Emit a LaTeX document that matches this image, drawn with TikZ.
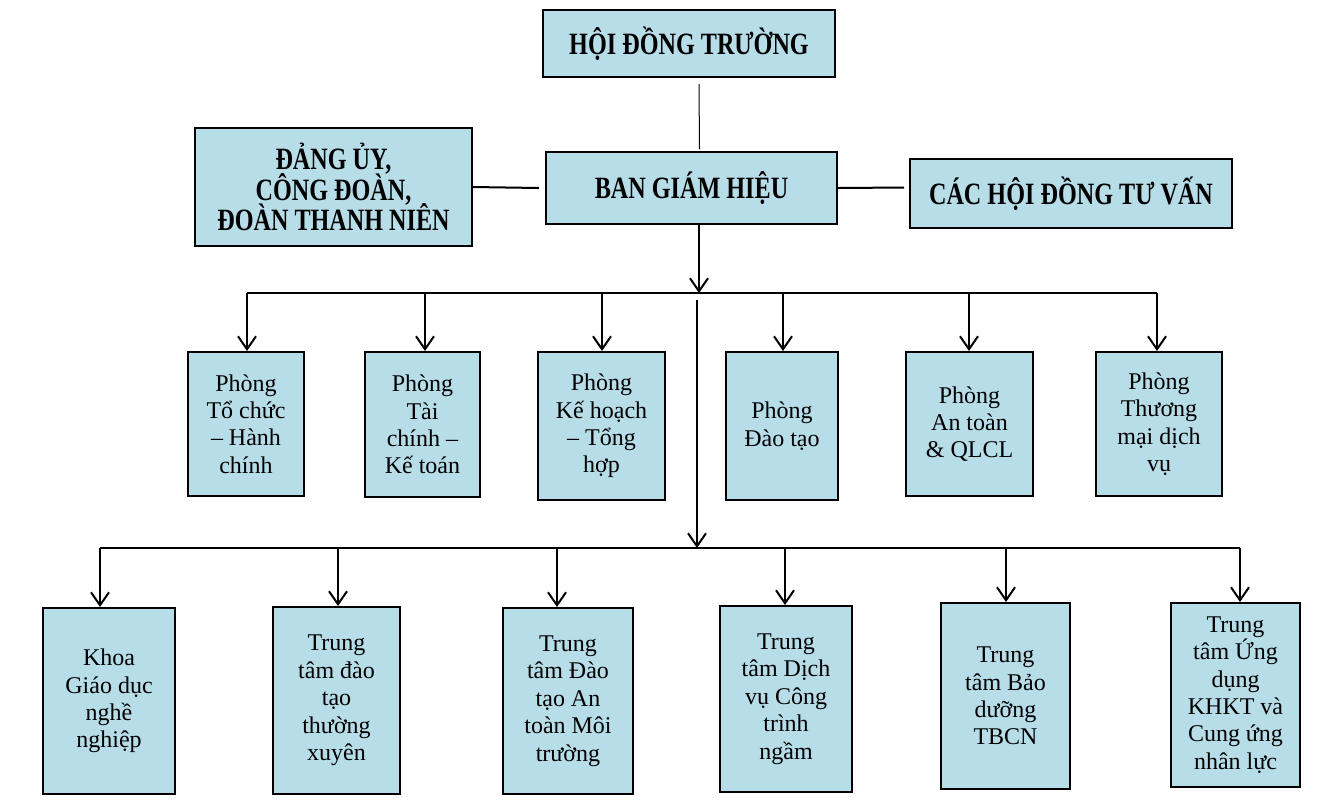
\documentclass[tikz,border=0pt]{standalone}
\usepackage{fontspec}
\setmainfont{Liberation Serif}
\newfontfamily\headfont[FakeStretch=0.78]{Liberation Serif}
\usetikzlibrary{arrows.meta,calc}
\definecolor{boxblue}{RGB}{183,221,232}
\newcommand{\headtext}{\headfont\bfseries\fontsize{15.5}{15.2}\selectfont\lineskiplimit-20pt\relax}

\begin{document}
\begin{tikzpicture}[
  x=0.5pt,y=-0.5pt,
  box/.style={draw,line width=1pt,fill=boxblue,align=center,inner sep=2pt,
    font=\fontsize{12}{13.7}\selectfont},
  head/.style={box,font=\headtext},
  link/.style={line width=1pt},
  arr/.style={line width=1pt,-{Straight Barb[length=6.5pt,width=9pt,line width=1pt]}}
]
  \useasboundingbox (0,0) rectangle (1339,800);

  % Top level
  \node[head,minimum width=146pt,minimum height=33.5pt] (hdt) at (689,43.5) {HỘI ĐỒNG TRƯỜNG};
  \node[head,minimum width=145.5pt,minimum height=36pt] (bgh) at (691.5,188) {BAN GIÁM HIỆU};
  \node[head,minimum width=138.5pt,minimum height=59pt] (dang) at (333.5,187) {ĐẢNG ỦY,\\CÔNG ĐOÀN,\\ĐOÀN THANH NIÊN};
  \node[head,minimum width=161pt,minimum height=34.5pt] (tuvan) at (1071,193.5) {CÁC HỘI ĐỒNG TƯ VẤN};

  % Side and top links
  \draw[line width=0.5pt] ($(hdt.south)+(10,6)$) -- ($(bgh.north)+(8,-2)$);
  \draw[link] ($(dang.east)+(0,0)$) -- ($(bgh.west)+(-6,0)$);
  \draw[link] (bgh.east) -- ($(tuvan.west)+(-5,-6)$);

  % Departments (row 1)
  \node[box,minimum width=58pt,minimum height=72pt] (p1) at (246,424) {Phòng\\Tổ chức\\– Hành\\chính};
  \node[box,minimum width=57.5pt,minimum height=72.5pt] (p2) at (422.5,424.5) {Phòng\\Tài\\chính –\\Kế toán};
  \node[box,minimum width=63.5pt,minimum height=74pt] (p3) at (601.5,426) {Phòng\\Kế hoạch\\– Tổng\\hợp};
  \node[box,minimum width=56pt,minimum height=74pt] (p4) at (782,426) {Phòng\\Đào tạo};
  \node[box,minimum width=63.5pt,minimum height=72pt] (p5) at (969.5,424) {Phòng\\An toàn\\\& QLCL};
  \node[box,minimum width=63pt,minimum height=72pt] (p6) at (1159,424) {Phòng\\Thương\\mại dịch\\vụ};

  % Faculty and centres (row 2)
  \node[box,minimum width=66pt,minimum height=93pt] (k1) at (109,701) {Khoa\\Giáo dục\\nghề\\nghiệp};
  \node[box,minimum width=63.5pt,minimum height=93.5pt] (k2) at (336.5,700.5) {Trung\\tâm đào\\tạo\\thường\\xuyên};
  \node[box,minimum width=65pt,minimum height=93pt] (k3) at (568,701) {Trung\\tâm Đào\\tạo An\\toàn Môi\\trường};
  \node[box,minimum width=66pt,minimum height=93pt] (k4) at (786,699) {Trung\\tâm Dịch\\vụ Công\\trình\\ngầm};
  \node[box,minimum width=64.5pt,minimum height=93pt] (k5) at (1005.5,696) {Trung\\tâm Bảo\\dưỡng\\TBCN};
  \node[box,minimum width=64.5pt,minimum height=92pt] (k6) at (1235.5,695) {Trung\\tâm Ứng\\dụng\\KHKT và\\Cung ứng\\nhân lực};

  % Bus junctions
  \coordinate (busA) at (699,293);
  \coordinate (busB) at (697,548);

  % BGH down to first bus
  \draw[arr] (bgh.south -| busA) -- (busA);
  \draw[link] (247,293) -- (1157,293);
  \draw[arr] (247,293) -- (p1.north -| 247,0);
  \draw[arr] (425,293) -- (p2.north -| 425,0);
  \draw[arr] (602,293) -- (p3.north -| 602,0);
  \draw[arr] (783,293) -- (p4.north -| 783,0);
  \draw[arr] (969,293) -- (p5.north -| 969,0);
  \draw[arr] (1157,293) -- (p6.north -| 1157,0);

  % First bus down to second bus
  \draw[arr] (697,300) -- (busB);
  \draw[link] (100,548) -- (1240,548);
  \draw[arr] (100,548) -- (k1.north -| 100,0);
  \draw[arr] (338,548) -- (k2.north -| 338,0);
  \draw[arr] (557,548) -- (k3.north -| 557,0);
  \draw[arr] (785,548) -- (k4.north -| 785,0);
  \draw[arr] (1006,548) -- (k5.north -| 1006,0);
  \draw[arr] (1240,548) -- (k6.north -| 1240,0);
\end{tikzpicture}
\end{document}
